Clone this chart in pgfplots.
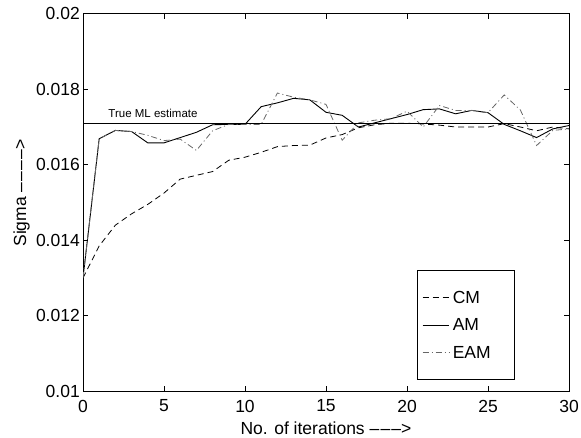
\documentclass[border=0pt]{standalone}
\usepackage{fontspec}
\setmainfont{Liberation Sans}
\usepackage{pgfplots}
\pgfplotsset{compat=1.18}

\newcommand{\bigfont}{\fontsize{17.5bp}{21bp}\selectfont}
\newcommand{\smallfont}{\fontsize{11.5bp}{14bp}\selectfont}
\newcommand{\dsh}{\textendash\kern1.2bp}

\begin{document}
\begin{tikzpicture}
\useasboundingbox (0,0) rectangle (581bp,438bp);
\begin{axis}[
  at={(83bp,46.8bp)}, anchor=south west,
  scale only axis, width=486bp, height=377.4bp,
  xmin=0, xmax=30, ymin=0.01, ymax=0.02,
  xtick={0,5,...,30},
  ytick={0.01,0.012,0.014,0.016,0.018,0.02},
  yticklabels={0.01,0.012,0.014,0.016,0.018,0.02},
  scaled y ticks=false,
  /pgf/number format/assume math mode=true,
  tick align=inside, major tick length=5bp,
  axis line style={line width=0.8bp},
  tick style={line width=0.6bp, black},
  tick label style={font=\bigfont},
  yticklabel style={inner sep=0pt, xshift=-3bp},
  xticklabel style={inner sep=0pt, yshift=-8.5bp},
  legend style={at={(rel axis cs:0.687,0.0297)}, anchor=south west,
    draw=black, line width=0.8bp, font=\bigfont,
    inner xsep=5bp, inner ysep=20bp, row sep=14bp,
    nodes={inner sep=0pt}},
  legend cell align=left,
  legend image code/.code={\draw[#1] (0bp,0bp) -- (26.6bp,0bp);},
  legend style={/tikz/every odd column/.append style={column sep=3bp}},
]
% CM
\addplot[black, line width=0.8bp, dash pattern=on 6bp off 4bp] coordinates {
(0,0.0130) (1,0.01385) (2,0.01440) (3,0.01470) (4,0.01495) (5,0.01525)
(6,0.01562) (7,0.01572) (8,0.01582) (9,0.01612) (10,0.01620) (11,0.01633)
(12,0.01648) (13,0.01651) (14,0.01652) (15,0.01671) (16,0.01680) (17,0.01698)
(18,0.01706) (19,0.01710) (20,0.01710) (21,0.01708) (22,0.01705) (23,0.01700)
(24,0.01700) (25,0.01700) (26,0.01709) (27,0.01700) (28,0.01690) (29,0.01700)
(30,0.01695)};
\addlegendentry{\makebox[57bp][l]{CM}}
% AM
\addplot[black, line width=0.9bp] coordinates {
(0,0.0130) (1,0.01669) (2,0.01691) (3,0.01688) (4,0.01658) (5,0.01658)
(6,0.01672) (7,0.01686) (8,0.01706) (9,0.01707) (10,0.01707) (11,0.01754)
(12,0.01764) (13,0.01776) (14,0.01772) (15,0.01739) (16,0.01731) (17,0.01700)
(18,0.01711) (19,0.01722) (20,0.01733) (21,0.01746) (22,0.01748) (23,0.01735)
(24,0.01744) (25,0.01738) (26,0.01707) (27,0.01690) (28,0.01672) (29,0.01695)
(30,0.01704)};
\addlegendentry{AM}
% EAM
\addplot[black!60, line width=0.8bp, dash pattern=on 6bp off 3bp on 1bp off 3bp] coordinates {
(0,0.0130) (1,0.01669) (2,0.01691) (3,0.01688) (4,0.01678) (5,0.01664)
(6,0.01668) (7,0.01638) (8,0.01690) (9,0.01707) (10,0.01707) (11,0.01707)
(12,0.01790) (13,0.01779) (14,0.01772) (15,0.01760) (16,0.01665) (17,0.01711)
(18,0.01718) (19,0.01722) (20,0.01742) (21,0.01700) (22,0.01757) (23,0.01744)
(24,0.01744) (25,0.01738) (26,0.01785) (27,0.01745) (28,0.01651) (29,0.01691)
(30,0.01695)};
\addlegendentry{EAM}
% true ML estimate
\addplot[black, line width=0.8bp, forget plot] coordinates {(0,0.01709) (30,0.01709)};
\node[font=\smallfont, anchor=west, inner sep=0pt] at (axis cs:1.56,0.01736) {True ML estimate};
\end{axis}
\node[font=\bigfont, rotate=90] at (21.7bp,245bp)
  {Sigma \dsh\dsh\dsh\textendash>};
\node[font=\bigfont] at (326bp,10bp)
  {No. of iterations \dsh\dsh\textendash>};
\end{tikzpicture}
\end{document}
